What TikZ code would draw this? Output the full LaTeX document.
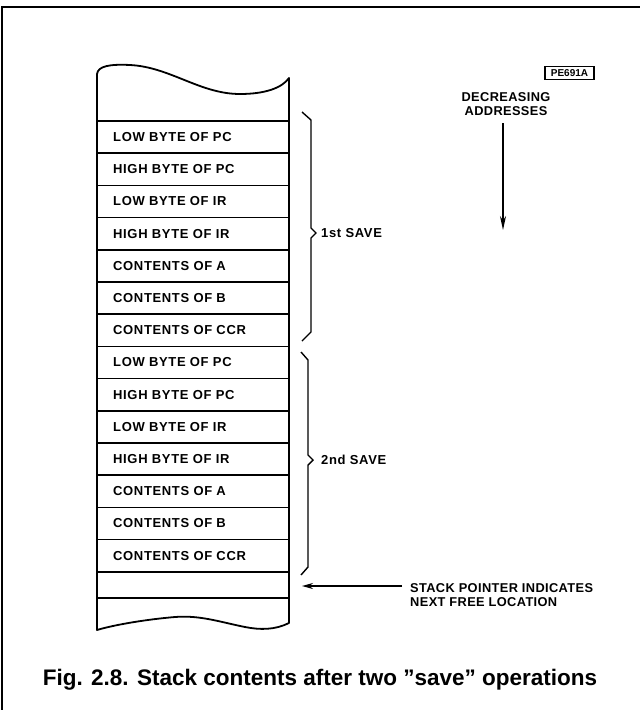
\documentclass[tikz,border=0pt]{standalone}
\usepackage{fontspec}
\setmainfont{Liberation Sans}
\usetikzlibrary{arrows.meta}
\begin{document}
\begin{tikzpicture}[x=1pt,y=-1pt,
  rowtext/.style={anchor=west,font=\fontsize{13}{14}\selectfont\bfseries\addfontfeatures{LetterSpace=5},inner sep=0pt},
  savetext/.style={anchor=west,font=\fontsize{13}{14}\selectfont\bfseries\addfontfeatures{LetterSpace=5},inner sep=0pt},
  notetext/.style={font=\fontsize{12.8}{14.5}\selectfont\bfseries\addfontfeatures{LetterSpace=3},inner sep=0pt},
  outline/.style={line width=1.8pt,line join=round},
  rowline/.style={line width=1.5pt},
  bracestyle/.style={line width=1.4pt,line join=miter},
  arrowline/.style={line width=1.6pt}]
\useasboundingbox (0,0) rectangle (640,710);
% frame
\draw[line width=1.5pt] (2,710) -- (2,7) -- (640,7);
% stack outline
\draw[outline] (97,74) .. controls (98,66) and (110,64) .. (130,65)
  .. controls (170,67) and (200,94) .. (240,94)
  .. controls (265,94) and (282,88) .. (289,78)
  -- (289,623)
  .. controls (275,630) and (260,630) .. (245,627)
  .. controls (220,622) and (200,615) .. (175,617)
  .. controls (140,620) and (110,626) .. (97,630) -- cycle;
% row lines
\foreach \i in {0,...,14} \draw[rowline] (97,{121+32.2*\i}) -- (289,{121+32.2*\i});
\draw[rowline] (97,598) -- (289,598);
% row texts
\foreach \t [count=\i from 0] in {LOW BYTE OF PC,HIGH BYTE OF PC,LOW BYTE OF IR,HIGH BYTE OF IR,CONTENTS OF A,CONTENTS OF B,CONTENTS OF CCR,LOW BYTE OF PC,HIGH BYTE OF PC,LOW BYTE OF IR,HIGH BYTE OF IR,CONTENTS OF A,CONTENTS OF B,CONTENTS OF CCR}
  \node[rowtext] (r\i) at (113,{121+32.2*\i+16.1}) {\t};
% braces
\draw[bracestyle] (302,112) -- (311,120) -- (311,228) -- (316,233) -- (311,238) -- (311,332) -- (302,341);
\draw[bracestyle] (301,352) -- (308,360) -- (308,455) -- (313,460) -- (308,465) -- (308,567) -- (301,575);
\node[savetext] (s1) at (321,233) {1st SAVE};
\node[savetext] (s2) at (321,460) {2nd SAVE};
% tag
\node[draw,line width=1.5pt,font=\fontsize{10}{10}\selectfont\bfseries,inner sep=0pt,minimum width=49pt,minimum height=13pt] (tag) at (569.5,73) {PE691A};
% decreasing addresses
\node[notetext,align=center] (dec) at (506,104) {DECREASING\\ADDRESSES};
\coordinate (dtop) at (503,123);
\coordinate (dbot) at (503,230);
\draw[arrowline,-{Stealth[length=14pt,width=6pt]}] (dtop) -- (dbot);
% stack pointer
\node[notetext,align=left,anchor=west] (sp) at (410,595) {STACK POINTER INDICATES\\NEXT FREE LOCATION};
\coordinate (sptail) at (402,586);
\coordinate (sptip) at (302,586);
\draw[arrowline,-{Stealth[length=11pt,width=6pt]}] (sptail) -- (sptip);
% caption
\node[font=\fontsize{22.5}{26}\selectfont\bfseries,inner sep=0pt] (cap) at (320,680) {Fig. 2.8. Stack contents after two "save" operations};
\end{tikzpicture}
\end{document}
